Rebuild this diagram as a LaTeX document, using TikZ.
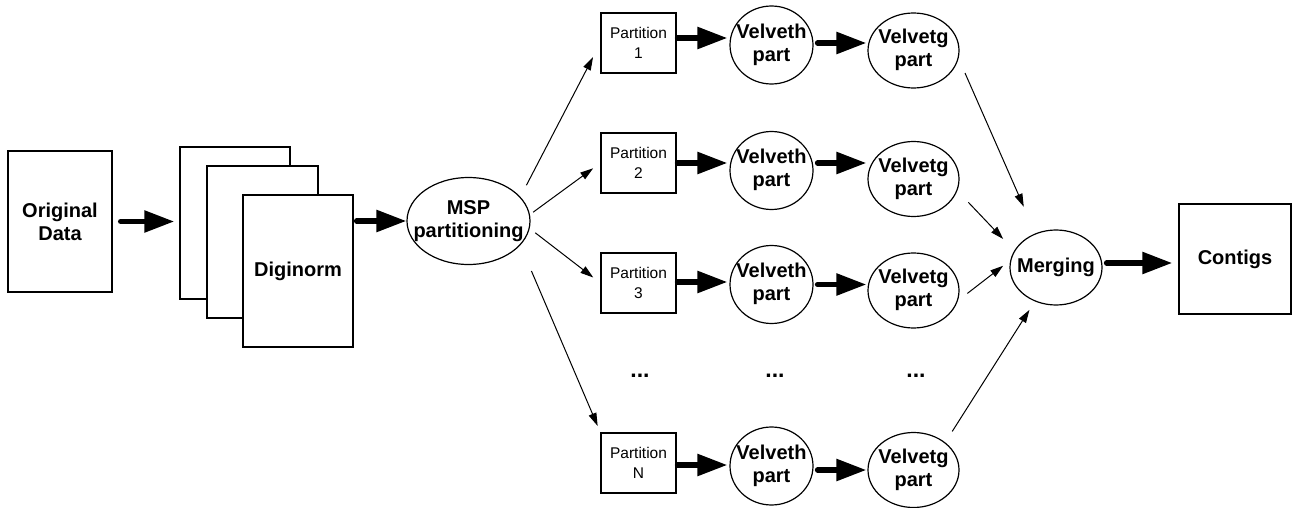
\documentclass[tikz,border=0pt]{standalone}
\usepackage{fontspec}
\setmainfont{Liberation Sans}
\usetikzlibrary{shapes.geometric,arrows.meta}
\newcommand\ellt[1]{\makebox[0pt][c]{\begin{tabular}{@{}c@{}}#1\end{tabular}}}
\begin{document}
\begin{tikzpicture}[x=1pt,y=-1pt,
  bigbox/.style={draw, line width=1.4pt, fill=white, inner sep=0pt, align=center, font=\fontsize{20}{23}\selectfont\bfseries},
  pbox/.style={draw, line width=1.2pt, minimum width=75pt, minimum height=60pt, inner sep=0pt, align=center, font=\fontsize{15.5}{20}\selectfont},
  proc/.style={draw, ellipse, line width=1.2pt, inner sep=0pt, font=\fontsize{20}{23}\selectfont\bfseries},
  vh/.style={proc, minimum width=83pt, minimum height=78pt},
  vg/.style={proc, minimum width=91pt, minimum height=75pt},
  fat/.style={-{Triangle[length=30pt,width=21pt]}, line width=5.5pt, line cap=round},
  slim/.style={-{Triangle[length=13pt,width=8pt]}, line width=1pt},
  dots/.style={font=\fontsize{23}{26}\selectfont\bfseries, inner sep=0pt}
]
\useasboundingbox (0,0) rectangle (1293,508);

% left part
\node[bigbox, minimum width=104pt, minimum height=141pt] (orig) at (60,221.5) {Original\\Data};
\node[bigbox, minimum width=110pt, minimum height=152pt] (dig1) at (235,223) {};
\node[bigbox, minimum width=111pt, minimum height=152pt] (dig2) at (262.5,242) {};
\node[bigbox, minimum width=110pt, minimum height=152pt] (dig3) at (298,271) {Diginorm};
\node[proc, minimum width=123pt, minimum height=87pt] (msp) at (468.5,221) {\ellt{MSP\\partitioning}};

% partitions
\node[pbox] (p1) at (638.5,43) {Partition\\1};
\node[pbox] (p2) at (638.5,163) {Partition\\2};
\node[pbox] (p3) at (638.5,283) {Partition\\3};
\node[pbox] (pn) at (638.5,463) {Partition\\N};

% velveth
\node[vh] (vh1) at (771.5,45) {\ellt{Velveth\\part}};
\node[vh] (vh2) at (771.5,170.5) {\ellt{Velveth\\part}};
\node[vh] (vh3) at (771.5,284.5) {\ellt{Velveth\\part}};
\node[vh] (vhn) at (771.5,466) {\ellt{Velveth\\part}};

% velvetg
\node[vg] (vg1) at (913.5,50.5) {\ellt{Velvetg\\part}};
\node[vg] (vg2) at (913.5,179) {\ellt{Velvetg\\part}};
\node[vg] (vg3) at (913.5,290.5) {\ellt{Velvetg\\part}};
\node[vg] (vgn) at (913.5,470) {\ellt{Velvetg\\part}};

% dots
\node[dots] (d1) at (640,376) {...};
\node[dots] (d2) at (775,376) {...};
\node[dots] (d3) at (916,376) {...};

% merging and contigs
\node[proc, minimum width=92pt, minimum height=75pt] (mrg) at (1056,267.5) {\ellt{Merging}};
\node[bigbox, minimum width=112pt, minimum height=110pt] (ctg) at (1235,259) {Contigs};

% thick arrows
\draw[fat, shorten <=8pt, shorten >=5pt] (orig.east) -- (orig.east -| dig1.west);
\draw[fat, shorten <=3pt] (msp.west -| dig3.east) -- (msp.west);

\draw[fat, shorten <=1pt, shorten >=2pt, transform canvas={yshift=5pt}] (p1.east) -- (p1.east -| vh1.west);
\draw[fat, shorten <=1pt, shorten >=2pt] (p2.east) -- (p2.east -| vh2.west);
\draw[fat, shorten <=1pt, shorten >=2pt, transform canvas={yshift=1pt}] (p3.east) -- (p3.east -| vh3.west);
\draw[fat, shorten <=1pt, shorten >=2pt, transform canvas={yshift=-2pt}] (pn.east) -- (pn.east -| vhn.west);

\draw[fat, shorten <=4pt, shorten >=1pt, transform canvas={yshift=2pt}] (vh1.east) -- (vh1.east -| vg1.west);
\draw[fat, shorten <=4pt, shorten >=1pt, transform canvas={yshift=7.5pt}] (vh2.east) -- (vh2.east -| vg2.west);
\draw[fat, shorten <=4pt, shorten >=1pt] (vh3.east) -- (vh3.east -| vg3.west);
\draw[fat, shorten <=4pt, shorten >=1pt, transform canvas={yshift=-4pt}] (vhn.east) -- (vhn.east -| vgn.west);

\draw[fat, shorten <=4pt, shorten >=6pt, transform canvas={yshift=4.5pt}] (mrg.east) -- (mrg.east -| ctg.west);

% thin arrows
\draw[slim, shorten <=13pt, shorten >=16pt] (msp.25) -- (p1.west);
\draw[slim, shorten <=4pt, shorten >=9pt] (msp.6) -- (p2.west);
\draw[slim, shorten <=7pt, shorten >=9pt] (msp.-7) -- (p3.west);
\draw[slim, shorten <=28pt, shorten >=7pt] (msp.-25) -- (pn.north west);

\draw[slim, shorten <=16pt, shorten >=29pt] (vg1.-10) -- (mrg.121);
\draw[slim, shorten <=16pt, shorten >=16pt] (vg2.-15) -- (mrg.158);
\draw[slim, shorten <=12pt, shorten >=9pt] (vg3.-13) -- (mrg.171);
\draw[slim, shorten <=13pt, shorten >=10pt] (vgn.41) -- (mrg.238);
\end{tikzpicture}
\end{document}
